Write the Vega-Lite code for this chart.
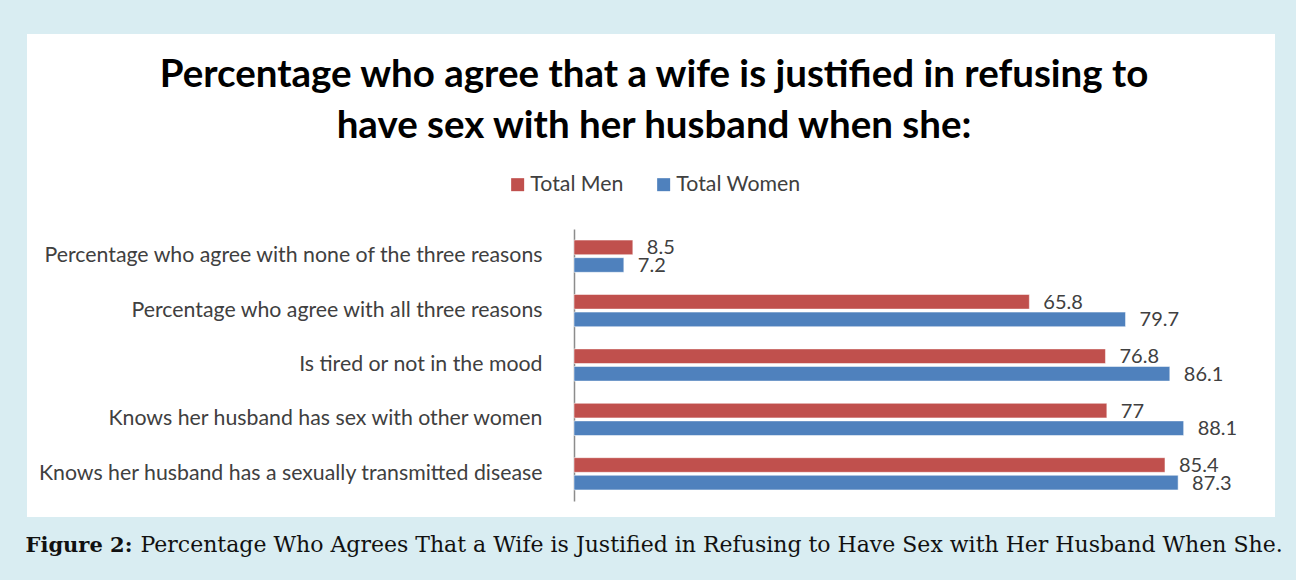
{
  "$schema": "https://vega.github.io/schema/vega-lite/v6.json",
  "autosize": {"type": "none"},
  "padding": {"left": 27, "top": 34, "right": 21, "bottom": 63},
  "width": 1248,
  "height": 483,
  "background": "#d9edf2",
  "config": {
    "view": {"fill": "white", "stroke": null},
    "font": "Lato"
  },
  "title": {
    "text": ["Percentage who agree that a wife is justified in refusing to", "have sex with her husband when she:"],
    "font": "Lato",
    "fontSize": 38.5,
    "fontWeight": "bold",
    "color": "#000000",
    "anchor": "middle",
    "lineHeight": 51,
    "baseline": "alphabetic",
    "offset": -142,
    "dx": 3
  },
  "data": {
    "values": [
      {"category": "Percentage who agree with none of the three reasons", "series": "Total Men", "value": 8.5},
      {"category": "Percentage who agree with none of the three reasons", "series": "Total Women", "value": 7.2},
      {"category": "Percentage who agree with all three reasons", "series": "Total Men", "value": 65.8},
      {"category": "Percentage who agree with all three reasons", "series": "Total Women", "value": 79.7},
      {"category": "Is tired or not in the mood", "series": "Total Men", "value": 76.8},
      {"category": "Is tired or not in the mood", "series": "Total Women", "value": 86.1},
      {"category": "Knows her husband has sex with other women", "series": "Total Men", "value": 77},
      {"category": "Knows her husband has sex with other women", "series": "Total Women", "value": 88.1},
      {"category": "Knows her husband has a sexually transmitted disease", "series": "Total Men", "value": 85.4},
      {"category": "Knows her husband has a sexually transmitted disease", "series": "Total Women", "value": 87.3}
    ]
  },
  "encoding": {
    "y": {
      "field": "category",
      "type": "nominal",
      "sort": null,
      "scale": {"range": [195, 467], "paddingInner": 0, "paddingOuter": 0},
      "axis": {
        "title": null,
        "offset": -547,
        "ticks": false,
        "domainColor": "#8c8c8c",
        "domainWidth": 1.5,
        "labelPadding": 32,
        "labelFontSize": 21.3,
        "labelColor": "#404040",
        "labelFont": "Lato",
        "labelLimit": 0,
        "grid": false
      }
    },
    "yOffset": {
      "field": "series",
      "type": "nominal",
      "sort": ["Total Men", "Total Women"],
      "scale": {"paddingInner": 0.17, "paddingOuter": 0.63}
    },
    "x": {
      "field": "value",
      "type": "quantitative",
      "scale": {"domain": [-79.05, 101.3], "nice": false, "zero": false},
      "axis": {
        "orient": "bottom",
        "domain": false,
        "ticks": false,
        "labels": false,
        "grid": false,
        "title": "Figure 2:",
        "titleFont": "DejaVu Serif",
        "titleFontSize": 21,
        "titleFontWeight": "bold",
        "titleColor": "#111111",
        "titleAnchor": "start",
        "titleAlign": "left",
        "titleBaseline": "alphabetic",
        "titleX": -2,
        "titleY": 34
      }
    }
  },
  "layer": [
    {
      "mark": {"type": "bar", "stroke": "white", "strokeWidth": 0.5},
      "encoding": {
        "x2": {"datum": 0},
        "color": {
          "field": "series",
          "type": "nominal",
          "sort": ["Total Men", "Total Women"],
          "scale": {"domain": ["Total Men", "Total Women"], "range": ["#c0504d", "#4f81bd"]},
          "legend": {
            "title": null,
            "orient": "none",
            "direction": "horizontal",
            "legendX": 480,
            "legendY": 140,
            "symbolType": "square",
            "symbolSize": 169,
            "symbolStrokeWidth": 0,
            "labelFontSize": 21.3,
            "labelColor": "#404040",
            "labelFont": "Lato",
            "labelOffset": 2,
            "columnPadding": 29
          }
        }
      }
    },
    {
      "mark": {"type": "text", "align": "left", "baseline": "middle", "dx": 14, "dy": 1, "fontSize": 20, "color": "#404040", "font": "Lato"},
      "encoding": {
        "text": {"field": "value", "type": "quantitative"},
        "x": {
          "field": "value",
          "type": "quantitative",
          "axis": {
            "orient": "bottom",
            "domain": false,
            "ticks": false,
            "labels": false,
            "grid": false,
            "title": "Percentage Who Agrees That a Wife is Justified in Refusing to Have Sex with Her Husband When She.",
            "titleFont": "DejaVu Serif",
            "titleFontSize": 22,
            "titleFontWeight": "normal",
            "titleColor": "#111111",
            "titleAnchor": "start",
            "titleAlign": "left",
            "titleBaseline": "alphabetic",
            "titleX": 113,
            "titleY": 34
          }
        }
      }
    }
  ],
  "resolve": {"axis": {"x": "independent"}}
}
